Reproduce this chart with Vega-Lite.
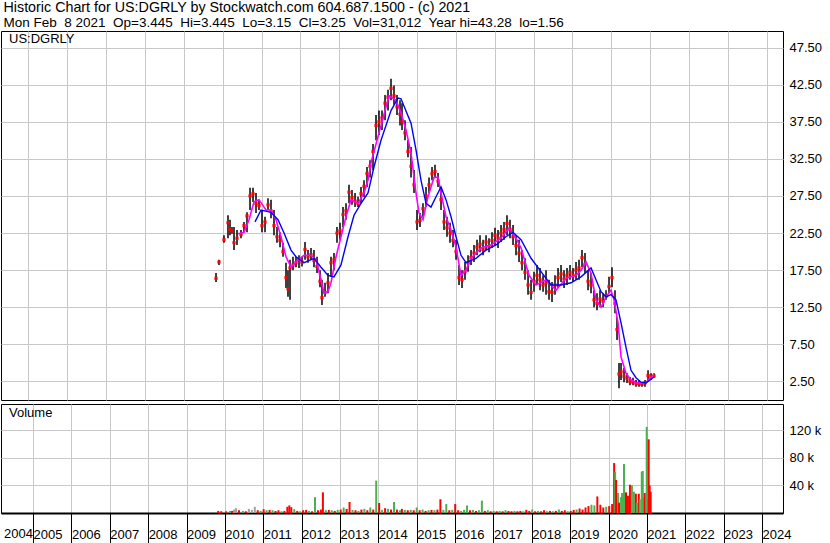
{
  "$schema": "https://vega.github.io/schema/vega-lite/v6.json",
  "padding": 0,
  "background": "white",
  "title": {
    "text": "Historic Chart for US:DGRLY by Stockwatch.com 604.687.1500 - (c) 2021",
    "subtitle": "Mon Feb\u00a0 8 2021\u00a0 Op=3.445\u00a0 Hi=3.445\u00a0 Lo=3.15\u00a0 Cl=3.25\u00a0 Vol=31,012\u00a0 Year hi=43.28\u00a0 lo=1.56",
    "anchor": "start", "frame": "bounds", "dx": 3, "offset": 1,
    "font": "Liberation Sans", "fontSize": 14.3, "fontWeight": "normal", "color": "black",
    "subtitleFont": "Liberation Sans", "subtitleFontSize": 13.5, "subtitleColor": "black", "subtitlePadding": 1
  },
  "datasets": {
    "px": [
      {"t":2009.828,"h":17.1,"l":15.9,"c":16.4},
      {"t":2009.905,"h":18.9,"l":18.2,"c":18.6},
      {"t":2010.033,"h":22.2,"l":21.2,"c":21.6},
      {"t":2010.136,"h":24.9,"l":21.8,"c":23.9},
      {"t":2010.188,"h":24.3,"l":22.2,"c":23.0},
      {"t":2010.239,"h":23.3,"l":22.4,"c":22.8},
      {"t":2010.291,"h":23.3,"l":20.2,"c":21.2},
      {"t":2010.368,"h":22.9,"l":20.9,"c":21.8},
      {"t":2010.471,"h":22.9,"l":21.8,"c":22.3},
      {"t":2010.548,"h":24.0,"l":22.6,"c":23.5},
      {"t":2010.625,"h":25.3,"l":22.6,"c":24.8},
      {"t":2010.703,"h":28.6,"l":25.6,"c":27.5},
      {"t":2010.780,"h":28.6,"l":26.7,"c":27.8},
      {"t":2010.857,"h":27.9,"l":25.2,"c":26.5},
      {"t":2010.934,"h":27.0,"l":25.6,"c":26.2},
      {"t":2011.011,"h":25.6,"l":22.6,"c":23.5},
      {"t":2011.089,"h":24.7,"l":22.6,"c":24.0},
      {"t":2011.166,"h":27.2,"l":25.6,"c":26.3},
      {"t":2011.243,"h":27.0,"l":24.5,"c":25.5},
      {"t":2011.320,"h":25.6,"l":22.2,"c":23.5},
      {"t":2011.397,"h":23.3,"l":21.2,"c":22.0},
      {"t":2011.475,"h":22.6,"l":20.6,"c":21.5},
      {"t":2011.552,"h":21.2,"l":19.3,"c":20.0},
      {"t":2011.629,"h":18.5,"l":15.1,"c":16.5},
      {"t":2011.680,"h":17.5,"l":13.9,"c":15.0},
      {"t":2011.732,"h":18.9,"l":13.5,"c":17.8},
      {"t":2011.809,"h":19.3,"l":17.5,"c":18.2},
      {"t":2011.886,"h":19.3,"l":17.9,"c":18.5},
      {"t":2011.963,"h":19.5,"l":17.8,"c":18.9},
      {"t":2012.041,"h":19.3,"l":18.0,"c":18.6},
      {"t":2012.118,"h":21.3,"l":18.9,"c":20.3},
      {"t":2012.195,"h":20.2,"l":18.5,"c":19.3},
      {"t":2012.272,"h":20.5,"l":18.9,"c":19.6},
      {"t":2012.349,"h":20.2,"l":17.9,"c":18.8},
      {"t":2012.427,"h":19.3,"l":17.1,"c":18.0},
      {"t":2012.504,"h":17.5,"l":15.2,"c":16.0},
      {"t":2012.555,"h":16.2,"l":12.8,"c":13.8},
      {"t":2012.633,"h":15.8,"l":13.9,"c":14.5},
      {"t":2012.710,"h":17.1,"l":14.4,"c":15.8},
      {"t":2012.787,"h":19.3,"l":16.6,"c":18.5},
      {"t":2012.864,"h":19.8,"l":17.5,"c":18.9},
      {"t":2012.941,"h":23.3,"l":21.2,"c":22.5},
      {"t":2013.019,"h":23.9,"l":21.6,"c":22.8},
      {"t":2013.096,"h":26.0,"l":23.3,"c":25.0},
      {"t":2013.173,"h":26.5,"l":24.3,"c":25.5},
      {"t":2013.250,"h":29.0,"l":26.5,"c":28.0},
      {"t":2013.327,"h":28.3,"l":26.3,"c":27.3},
      {"t":2013.405,"h":27.9,"l":26.0,"c":26.8},
      {"t":2013.482,"h":27.4,"l":26.0,"c":26.5},
      {"t":2013.559,"h":28.7,"l":26.5,"c":27.8},
      {"t":2013.636,"h":29.6,"l":27.4,"c":28.8},
      {"t":2013.713,"h":31.4,"l":28.7,"c":30.5},
      {"t":2013.791,"h":32.3,"l":30.0,"c":31.5},
      {"t":2013.868,"h":34.5,"l":31.0,"c":33.5},
      {"t":2013.945,"h":38.4,"l":35.0,"c":37.0},
      {"t":2014.022,"h":39.0,"l":35.7,"c":37.5},
      {"t":2014.099,"h":39.0,"l":36.4,"c":38.0},
      {"t":2014.177,"h":41.1,"l":37.7,"c":40.0},
      {"t":2014.254,"h":41.8,"l":39.0,"c":40.8},
      {"t":2014.331,"h":43.3,"l":40.4,"c":42.0},
      {"t":2014.408,"h":42.4,"l":39.8,"c":41.0},
      {"t":2014.485,"h":41.1,"l":38.4,"c":39.5},
      {"t":2014.563,"h":40.4,"l":37.0,"c":38.5},
      {"t":2014.614,"h":40.0,"l":36.4,"c":37.5},
      {"t":2014.691,"h":37.7,"l":35.0,"c":36.0},
      {"t":2014.768,"h":35.0,"l":32.7,"c":33.5},
      {"t":2014.846,"h":34.1,"l":30.0,"c":31.5},
      {"t":2014.923,"h":31.0,"l":27.9,"c":29.0},
      {"t":2015.000,"h":25.6,"l":22.9,"c":24.0},
      {"t":2015.077,"h":25.2,"l":23.3,"c":24.2},
      {"t":2015.154,"h":26.5,"l":24.7,"c":25.8},
      {"t":2015.232,"h":28.7,"l":26.0,"c":27.5},
      {"t":2015.309,"h":30.0,"l":27.9,"c":29.0},
      {"t":2015.386,"h":31.4,"l":29.6,"c":30.5},
      {"t":2015.463,"h":31.7,"l":30.0,"c":30.8},
      {"t":2015.541,"h":30.6,"l":28.7,"c":29.5},
      {"t":2015.618,"h":28.7,"l":25.6,"c":27.0},
      {"t":2015.695,"h":25.6,"l":22.9,"c":24.0},
      {"t":2015.772,"h":24.7,"l":22.0,"c":23.2},
      {"t":2015.849,"h":23.9,"l":21.2,"c":22.5},
      {"t":2015.927,"h":22.9,"l":20.6,"c":21.5},
      {"t":2016.004,"h":21.6,"l":18.9,"c":20.0},
      {"t":2016.081,"h":18.2,"l":15.5,"c":16.5},
      {"t":2016.158,"h":17.5,"l":15.1,"c":16.2},
      {"t":2016.235,"h":18.6,"l":16.2,"c":17.3},
      {"t":2016.313,"h":19.5,"l":17.3,"c":18.5},
      {"t":2016.390,"h":20.2,"l":18.2,"c":19.2},
      {"t":2016.467,"h":20.9,"l":18.6,"c":19.8},
      {"t":2016.544,"h":21.6,"l":19.5,"c":20.6},
      {"t":2016.621,"h":22.2,"l":19.9,"c":21.0},
      {"t":2016.699,"h":21.6,"l":19.5,"c":20.3},
      {"t":2016.776,"h":22.2,"l":20.2,"c":21.3},
      {"t":2016.853,"h":21.8,"l":19.9,"c":20.7},
      {"t":2016.930,"h":22.6,"l":20.5,"c":21.5},
      {"t":2017.007,"h":23.2,"l":20.9,"c":22.2},
      {"t":2017.085,"h":22.9,"l":20.5,"c":21.8},
      {"t":2017.162,"h":23.6,"l":21.3,"c":22.5},
      {"t":2017.239,"h":24.0,"l":21.6,"c":23.0},
      {"t":2017.316,"h":24.9,"l":22.2,"c":23.8},
      {"t":2017.393,"h":24.3,"l":21.8,"c":23.0},
      {"t":2017.471,"h":23.6,"l":20.9,"c":22.0},
      {"t":2017.548,"h":22.2,"l":19.5,"c":20.8},
      {"t":2017.625,"h":21.6,"l":18.6,"c":19.8},
      {"t":2017.702,"h":20.2,"l":17.5,"c":18.5},
      {"t":2017.779,"h":19.1,"l":16.2,"c":17.2},
      {"t":2017.857,"h":17.5,"l":14.2,"c":15.5},
      {"t":2017.934,"h":16.2,"l":13.5,"c":14.5},
      {"t":2018.011,"h":17.3,"l":14.6,"c":16.0},
      {"t":2018.088,"h":18.2,"l":15.5,"c":16.8},
      {"t":2018.165,"h":17.8,"l":14.8,"c":16.2},
      {"t":2018.243,"h":16.8,"l":14.6,"c":15.5},
      {"t":2018.320,"h":17.5,"l":14.2,"c":15.8},
      {"t":2018.397,"h":16.2,"l":13.5,"c":14.6},
      {"t":2018.474,"h":15.9,"l":13.2,"c":14.5},
      {"t":2018.551,"h":16.8,"l":14.2,"c":15.5},
      {"t":2018.629,"h":17.8,"l":15.1,"c":16.5},
      {"t":2018.706,"h":18.2,"l":15.9,"c":17.0},
      {"t":2018.783,"h":17.5,"l":15.1,"c":16.3},
      {"t":2018.860,"h":17.8,"l":15.5,"c":16.8},
      {"t":2018.937,"h":18.2,"l":16.2,"c":17.2},
      {"t":2019.015,"h":17.8,"l":15.9,"c":16.8},
      {"t":2019.092,"h":18.6,"l":16.2,"c":17.5},
      {"t":2019.169,"h":18.9,"l":16.2,"c":17.8},
      {"t":2019.246,"h":20.2,"l":17.9,"c":19.2},
      {"t":2019.323,"h":19.8,"l":17.1,"c":18.3},
      {"t":2019.401,"h":17.5,"l":14.8,"c":16.0},
      {"t":2019.478,"h":17.1,"l":14.4,"c":15.5},
      {"t":2019.555,"h":14.8,"l":12.5,"c":13.5},
      {"t":2019.632,"h":14.4,"l":12.1,"c":13.0},
      {"t":2019.709,"h":14.8,"l":12.5,"c":13.6},
      {"t":2019.787,"h":14.4,"l":12.5,"c":13.3},
      {"t":2019.864,"h":14.8,"l":13.5,"c":14.0},
      {"t":2019.941,"h":16.6,"l":14.4,"c":15.3},
      {"t":2020.018,"h":17.9,"l":15.2,"c":16.5},
      {"t":2020.095,"h":14.8,"l":11.7,"c":13.0},
      {"t":2020.147,"h":11.2,"l":8.1,"c":9.5},
      {"t":2020.198,"h":5.0,"l":1.6,"c":3.5},
      {"t":2020.250,"h":5.0,"l":2.7,"c":3.8},
      {"t":2020.327,"h":4.3,"l":2.4,"c":3.2},
      {"t":2020.404,"h":3.6,"l":2.3,"c":2.9},
      {"t":2020.481,"h":3.1,"l":2.0,"c":2.5},
      {"t":2020.559,"h":3.0,"l":2.0,"c":2.4},
      {"t":2020.636,"h":2.7,"l":1.8,"c":2.2},
      {"t":2020.713,"h":2.7,"l":1.8,"c":2.2},
      {"t":2020.790,"h":2.4,"l":1.8,"c":2.1},
      {"t":2020.867,"h":2.7,"l":1.8,"c":2.3},
      {"t":2020.945,"h":4.0,"l":2.7,"c":3.3},
      {"t":2021.022,"h":3.6,"l":2.7,"c":3.2},
      {"t":2021.099,"h":3.6,"l":3.0,"c":3.25}
    ],
    "mag": [
      {"t":2010.394,"v":22.4},{"t":2010.548,"v":22.6},{"t":2010.677,"v":24.3},{"t":2010.806,"v":26.7},
      {"t":2010.934,"v":27.0},{"t":2011.114,"v":25.6},{"t":2011.243,"v":25.6},{"t":2011.372,"v":24.3},
      {"t":2011.500,"v":22.0},{"t":2011.629,"v":19.3},{"t":2011.758,"v":17.9},{"t":2011.938,"v":18.9},
      {"t":2012.092,"v":19.5},{"t":2012.272,"v":19.5},{"t":2012.401,"v":18.9},{"t":2012.530,"v":16.2},
      {"t":2012.607,"v":14.4},{"t":2012.710,"v":14.6},{"t":2012.787,"v":15.8},{"t":2012.916,"v":19.3},
      {"t":2013.044,"v":22.0},{"t":2013.173,"v":24.7},{"t":2013.302,"v":27.0},{"t":2013.482,"v":26.5},
      {"t":2013.636,"v":27.9},{"t":2013.739,"v":29.6},{"t":2013.816,"v":32.0},{"t":2014.074,"v":37.0},
      {"t":2014.280,"v":41.0},{"t":2014.460,"v":40.4},{"t":2014.588,"v":38.7},{"t":2014.717,"v":36.4},
      {"t":2014.846,"v":33.3},{"t":2014.974,"v":27.9},{"t":2015.051,"v":25.2},{"t":2015.155,"v":24.3},
      {"t":2015.283,"v":27.4},{"t":2015.437,"v":30.0},{"t":2015.540,"v":30.0},{"t":2015.618,"v":27.9},
      {"t":2015.746,"v":24.7},{"t":2015.875,"v":22.9},{"t":2016.004,"v":20.6},{"t":2016.132,"v":16.8},
      {"t":2016.261,"v":17.5},{"t":2016.390,"v":19.1},{"t":2016.647,"v":20.5},{"t":2016.904,"v":20.9},
      {"t":2017.162,"v":21.8},{"t":2017.367,"v":23.2},{"t":2017.548,"v":21.8},{"t":2017.676,"v":20.5},
      {"t":2017.882,"v":16.8},{"t":2018.062,"v":15.5},{"t":2018.320,"v":16.2},{"t":2018.577,"v":14.8},
      {"t":2018.834,"v":16.4},{"t":2019.092,"v":16.8},{"t":2019.220,"v":17.5},{"t":2019.349,"v":18.6},
      {"t":2019.478,"v":17.1},{"t":2019.606,"v":13.5},{"t":2019.735,"v":12.5},{"t":2019.864,"v":13.9},
      {"t":2019.992,"v":14.8},{"t":2020.070,"v":13.5},{"t":2020.173,"v":10.4},{"t":2020.250,"v":5.8},
      {"t":2020.378,"v":3.6},{"t":2020.507,"v":2.7},{"t":2020.636,"v":2.3},{"t":2020.764,"v":2.3},
      {"t":2020.893,"v":2.4},{"t":2021.022,"v":3.1},{"t":2021.100,"v":3.4}
    ],
    "blu": [
      {"t":2010.831,"v":24.0},{"t":2010.986,"v":25.6},{"t":2011.243,"v":25.3},{"t":2011.423,"v":24.3},
      {"t":2011.578,"v":22.5},{"t":2011.758,"v":20.2},{"t":2011.886,"v":19.3},{"t":2012.092,"v":18.5},
      {"t":2012.350,"v":19.1},{"t":2012.530,"v":17.9},{"t":2012.710,"v":16.8},{"t":2012.864,"v":16.6},
      {"t":2013.044,"v":18.2},{"t":2013.225,"v":22.0},{"t":2013.379,"v":24.9},{"t":2013.559,"v":26.5},
      {"t":2013.739,"v":27.9},{"t":2013.893,"v":31.4},{"t":2014.074,"v":35.0},{"t":2014.331,"v":39.0},
      {"t":2014.511,"v":40.7},{"t":2014.588,"v":40.6},{"t":2014.846,"v":37.3},{"t":2014.974,"v":33.7},
      {"t":2015.103,"v":29.6},{"t":2015.232,"v":26.5},{"t":2015.360,"v":26.0},{"t":2015.489,"v":27.4},
      {"t":2015.618,"v":28.7},{"t":2015.746,"v":27.0},{"t":2015.875,"v":24.7},{"t":2016.004,"v":22.0},
      {"t":2016.132,"v":19.5},{"t":2016.261,"v":18.5},{"t":2016.518,"v":19.1},{"t":2016.776,"v":20.2},
      {"t":2017.033,"v":20.9},{"t":2017.290,"v":22.0},{"t":2017.470,"v":22.6},{"t":2017.676,"v":21.6},
      {"t":2017.934,"v":19.1},{"t":2018.191,"v":17.3},{"t":2018.448,"v":15.5},{"t":2018.706,"v":15.5},
      {"t":2018.963,"v":15.8},{"t":2019.220,"v":16.6},{"t":2019.478,"v":17.8},{"t":2019.606,"v":16.2},
      {"t":2019.735,"v":14.6},{"t":2019.864,"v":13.9},{"t":2019.992,"v":14.2},{"t":2020.121,"v":13.5},
      {"t":2020.250,"v":10.4},{"t":2020.378,"v":7.1},{"t":2020.507,"v":4.0},{"t":2020.636,"v":3.0},
      {"t":2020.764,"v":2.4},{"t":2020.893,"v":2.3},{"t":2021.022,"v":2.8},{"t":2021.100,"v":3.1}
    ],
    "vol": [
      {"t":2009.828,"v":3000,"k":"down"},{"t":2009.905,"v":2500,"k":"down"},{"t":2010.033,"v":2500,"k":"down"},
      {"t":2010.136,"v":3000,"k":"up"},{"t":2010.188,"v":3000,"k":"down"},{"t":2010.239,"v":5000,"k":"flat"},
      {"t":2010.291,"v":7000,"k":"flat"},{"t":2010.368,"v":4000,"k":"down"},{"t":2010.471,"v":3000,"k":"up"},
      {"t":2010.548,"v":2500,"k":"down"},{"t":2010.625,"v":6000,"k":"flat"},{"t":2010.703,"v":4500,"k":"flat"},
      {"t":2010.780,"v":9000,"k":"flat"},{"t":2010.857,"v":4000,"k":"down"},{"t":2010.934,"v":3000,"k":"up"},
      {"t":2011.011,"v":5500,"k":"down"},{"t":2011.089,"v":4000,"k":"up"},{"t":2011.166,"v":4500,"k":"down"},
      {"t":2011.243,"v":4000,"k":"up"},{"t":2011.320,"v":3000,"k":"down"},{"t":2011.397,"v":4000,"k":"down"},
      {"t":2011.475,"v":2500,"k":"up"},{"t":2011.552,"v":3000,"k":"down"},{"t":2011.629,"v":9000,"k":"down"},
      {"t":2011.680,"v":11000,"k":"down"},{"t":2011.732,"v":8500,"k":"down"},{"t":2011.809,"v":5500,"k":"up"},
      {"t":2011.886,"v":3000,"k":"down"},{"t":2011.963,"v":2500,"k":"up"},{"t":2012.041,"v":4000,"k":"down"},
      {"t":2012.118,"v":4500,"k":"down"},{"t":2012.195,"v":3000,"k":"up"},{"t":2012.272,"v":2500,"k":"down"},
      {"t":2012.349,"v":23000,"k":"up"},{"t":2012.427,"v":4000,"k":"down"},{"t":2012.504,"v":5000,"k":"down"},
      {"t":2012.555,"v":30000,"k":"down"},{"t":2012.633,"v":4000,"k":"up"},{"t":2012.710,"v":4500,"k":"down"},
      {"t":2012.787,"v":4000,"k":"up"},{"t":2012.864,"v":3000,"k":"down"},{"t":2012.941,"v":4500,"k":"up"},
      {"t":2013.019,"v":5000,"k":"down"},{"t":2013.096,"v":8000,"k":"up"},{"t":2013.173,"v":6000,"k":"down"},
      {"t":2013.250,"v":16000,"k":"down"},{"t":2013.327,"v":4500,"k":"up"},{"t":2013.405,"v":4000,"k":"down"},
      {"t":2013.482,"v":3000,"k":"up"},{"t":2013.559,"v":5000,"k":"down"},{"t":2013.636,"v":6000,"k":"up"},
      {"t":2013.713,"v":4000,"k":"down"},{"t":2013.791,"v":8000,"k":"up"},{"t":2013.868,"v":5000,"k":"down"},
      {"t":2013.945,"v":47000,"k":"up"},{"t":2014.022,"v":14500,"k":"down"},{"t":2014.099,"v":4500,"k":"up"},
      {"t":2014.177,"v":7000,"k":"down"},{"t":2014.254,"v":6000,"k":"up"},{"t":2014.331,"v":5000,"k":"down"},
      {"t":2014.408,"v":16000,"k":"up"},{"t":2014.485,"v":5000,"k":"down"},{"t":2014.563,"v":4000,"k":"up"},
      {"t":2014.614,"v":6000,"k":"down"},{"t":2014.691,"v":4500,"k":"up"},{"t":2014.768,"v":4000,"k":"down"},
      {"t":2014.846,"v":4500,"k":"up"},{"t":2014.923,"v":4000,"k":"down"},{"t":2015.000,"v":8000,"k":"up"},
      {"t":2015.077,"v":4000,"k":"down"},{"t":2015.154,"v":5000,"k":"up"},{"t":2015.232,"v":3000,"k":"down"},
      {"t":2015.309,"v":4000,"k":"up"},{"t":2015.386,"v":4500,"k":"down"},{"t":2015.463,"v":4000,"k":"up"},
      {"t":2015.541,"v":5000,"k":"down"},{"t":2015.618,"v":20000,"k":"down"},{"t":2015.695,"v":4500,"k":"up"},
      {"t":2015.772,"v":13000,"k":"up"},{"t":2015.849,"v":4000,"k":"down"},{"t":2015.927,"v":4500,"k":"up"},
      {"t":2016.004,"v":13000,"k":"down"},{"t":2016.081,"v":4000,"k":"down"},{"t":2016.158,"v":3000,"k":"up"},
      {"t":2016.235,"v":4500,"k":"up"},{"t":2016.313,"v":11000,"k":"up"},{"t":2016.390,"v":4000,"k":"down"},
      {"t":2016.467,"v":4500,"k":"up"},{"t":2016.544,"v":3000,"k":"down"},{"t":2016.621,"v":4000,"k":"up"},
      {"t":2016.699,"v":18000,"k":"up"},{"t":2016.776,"v":3000,"k":"down"},{"t":2016.853,"v":4000,"k":"up"},
      {"t":2016.930,"v":2500,"k":"down"},{"t":2017.007,"v":3000,"k":"up"},{"t":2017.085,"v":2500,"k":"down"},
      {"t":2017.162,"v":3000,"k":"up"},{"t":2017.239,"v":2500,"k":"down"},{"t":2017.316,"v":4000,"k":"up"},
      {"t":2017.393,"v":3000,"k":"down"},{"t":2017.471,"v":2500,"k":"down"},{"t":2017.548,"v":3000,"k":"up"},
      {"t":2017.625,"v":2500,"k":"down"},{"t":2017.702,"v":3000,"k":"down"},{"t":2017.779,"v":2500,"k":"up"},
      {"t":2017.857,"v":4500,"k":"down"},{"t":2017.934,"v":3000,"k":"down"},{"t":2018.011,"v":5000,"k":"up"},
      {"t":2018.088,"v":2500,"k":"down"},{"t":2018.165,"v":3000,"k":"up"},{"t":2018.243,"v":2500,"k":"down"},
      {"t":2018.320,"v":4000,"k":"down"},{"t":2018.397,"v":2500,"k":"up"},{"t":2018.474,"v":3000,"k":"down"},
      {"t":2018.551,"v":2500,"k":"up"},{"t":2018.629,"v":3000,"k":"down"},{"t":2018.706,"v":5000,"k":"up"},
      {"t":2018.783,"v":3000,"k":"down"},{"t":2018.860,"v":4000,"k":"down"},{"t":2018.937,"v":2500,"k":"up"},
      {"t":2019.015,"v":3000,"k":"down"},{"t":2019.092,"v":4500,"k":"down"},{"t":2019.169,"v":5000,"k":"up"},
      {"t":2019.246,"v":6500,"k":"down"},{"t":2019.323,"v":5000,"k":"down"},{"t":2019.401,"v":8000,"k":"down"},
      {"t":2019.478,"v":10000,"k":"down"},{"t":2019.555,"v":12000,"k":"up"},{"t":2019.632,"v":11000,"k":"up"},
      {"t":2019.709,"v":24000,"k":"down"},{"t":2019.787,"v":12000,"k":"down"},{"t":2019.864,"v":8000,"k":"down"},
      {"t":2019.941,"v":9000,"k":"up"},{"t":2020.018,"v":10000,"k":"down"},{"t":2020.095,"v":13000,"k":"down"},
      {"t":2020.147,"v":72500,"k":"down"},{"t":2020.173,"v":60000,"k":"up"},{"t":2020.198,"v":48000,"k":"down"},
      {"t":2020.250,"v":29000,"k":"up"},{"t":2020.275,"v":15000,"k":"down"},{"t":2020.327,"v":23000,"k":"up"},
      {"t":2020.353,"v":29000,"k":"up"},{"t":2020.404,"v":71000,"k":"up"},{"t":2020.430,"v":18000,"k":"up"},
      {"t":2020.456,"v":30000,"k":"down"},{"t":2020.507,"v":25000,"k":"down"},{"t":2020.559,"v":41000,"k":"down"},
      {"t":2020.584,"v":20000,"k":"down"},{"t":2020.610,"v":40000,"k":"up"},{"t":2020.661,"v":31000,"k":"up"},
      {"t":2020.713,"v":28000,"k":"down"},{"t":2020.739,"v":15000,"k":"up"},{"t":2020.790,"v":28000,"k":"down"},
      {"t":2020.816,"v":20000,"k":"up"},{"t":2020.867,"v":60000,"k":"up"},{"t":2020.893,"v":61000,"k":"up"},
      {"t":2020.919,"v":22000,"k":"up"},{"t":2020.945,"v":29000,"k":"down"},{"t":2020.996,"v":125000,"k":"up"},
      {"t":2021.022,"v":20000,"k":"up"},{"t":2021.047,"v":107000,"k":"down"},{"t":2021.073,"v":40000,"k":"down"},
      {"t":2021.099,"v":31000,"k":"down"}
    ]
  },
  "vconcat": [
    {
      "width": 782,
      "height": 369,
      "title": {"text": "US:DGRLY", "anchor": "start", "frame": "group", "offset": -15, "dx": 8, "font": "Liberation Sans", "fontSize": 13, "fontWeight": "normal", "color": "black"},
      "layer": [
        {
          "data": {"name": "px"},
          "mark": {"type": "rule", "color": "black", "strokeWidth": 1.5},
          "encoding": {
            "x": {"field": "t", "type": "quantitative", "scale": {"domain": [2004.295, 2024.418], "nice": false, "zero": false},
                  "axis": {"values": [2005,2006,2007,2008,2009,2010,2011,2012,2013,2014,2015,2016,2017,2018,2019,2020,2021,2022,2023,2024], "labels": false, "ticks": false, "domain": false, "grid": true, "title": null}},
            "y": {"field": "l", "type": "quantitative", "scale": {"domain": [0, 49.73], "nice": false, "zero": false},
                  "axis": {"orient": "right", "values": [2.5,5,7.5,10,12.5,15,17.5,20,22.5,25,27.5,30,32.5,35,37.5,40,42.5,45,47.5], "format": ".2f", "ticks": false, "domain": false, "grid": true, "labelPadding": 6, "title": null}},
            "y2": {"field": "h"}
          }
        },
        {
          "data": {"name": "px"},
          "mark": {"type": "square", "color": "#ff0000", "filled": true, "opacity": 1, "size": 10},
          "encoding": {
            "x": {"field": "t", "type": "quantitative"},
            "y": {"field": "c", "type": "quantitative"}
          }
        },
        {
          "data": {"name": "mag"},
          "mark": {"type": "line", "color": "#ff00ff", "strokeWidth": 1.6},
          "encoding": {
            "x": {"field": "t", "type": "quantitative"},
            "y": {"field": "v", "type": "quantitative"}
          }
        },
        {
          "data": {"name": "blu"},
          "mark": {"type": "line", "color": "#0000ff", "strokeWidth": 1.4},
          "encoding": {
            "x": {"field": "t", "type": "quantitative"},
            "y": {"field": "v", "type": "quantitative"}
          }
        }
      ]
    },
    {
      "width": 782,
      "height": 109,
      "title": {"text": "Volume", "anchor": "start", "frame": "group", "offset": -16, "dx": 8, "font": "Liberation Sans", "fontSize": 13, "fontWeight": "normal", "color": "black"},
      "layer": [
        {
          "data": {"name": "vol"},
          "mark": {"type": "bar", "width": 2},
          "encoding": {
            "x": {"field": "t", "type": "quantitative", "scale": {"domain": [2004.295, 2024.418], "nice": false, "zero": false},
                  "axis": {"orient": "bottom", "values": [2005,2006,2007,2008,2009,2010,2011,2012,2013,2014,2015,2016,2017,2018,2019,2020,2021,2022,2023,2024], "format": "d", "grid": true, "ticks": true, "tickSize": 32, "tickColor": "black", "tickWidth": 1, "domain": true, "domainColor": "black", "domainWidth": 2, "labelAlign": "left", "labelBaseline": "top", "labelPadding": -17, "labelDx": 2, "labelFlush": false, "labelOverlap": false, "labelBound": false, "title": null}},
            "y": {"field": "v", "type": "quantitative", "scale": {"domain": [0, 158200], "nice": false},
                  "axis": {"orient": "right", "values": [40000, 80000, 120000], "labelExpr": "(datum.value / 1000) + ' k'", "ticks": false, "domain": false, "grid": true, "labelPadding": 6, "title": null}},
            "color": {"field": "k", "type": "nominal", "scale": {"domain": ["up", "down", "flat"], "range": ["#4caf50", "#ff0000", "#a0a0a0"]}, "legend": null}
          }
        },
        {
          "data": {"values": [{"lbl": "2004"}]},
          "mark": {"type": "text", "align": "left", "baseline": "top", "dx": -4, "dy": 15, "font": "Liberation Sans", "fontSize": 13, "fill": "black"},
          "encoding": {
            "text": {"field": "lbl"},
            "x": {"datum": 2004.35, "type": "quantitative"},
            "y": {"datum": 0, "type": "quantitative"}
          }
        }
      ]
    }
  ],
  "spacing": 2,
  "resolve": {"scale": {"x": "independent", "y": "independent"}},
  "config": {
    "font": "Liberation Sans",
    "view": {"stroke": "black", "strokeWidth": 1},
    "axis": {"gridColor": "#c8c8c8", "gridWidth": 1, "gridOpacity": 1, "labelFont": "Liberation Sans", "labelFontSize": 13, "labelColor": "black"}
  }
}
